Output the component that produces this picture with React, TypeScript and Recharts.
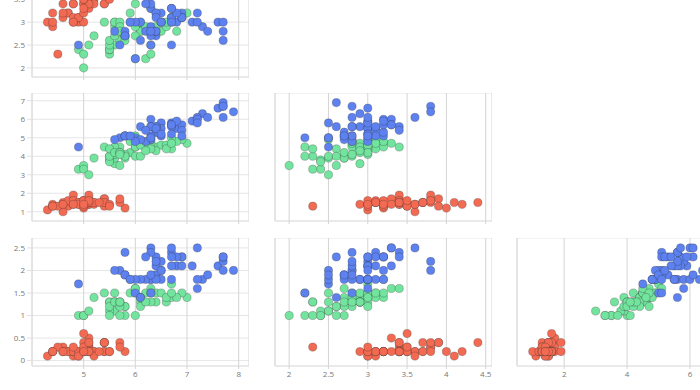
import { ScatterChart, Scatter, XAxis, YAxis, CartesianGrid } from 'recharts'

const setosaSepalLength = [5.1, 4.9, 4.7, 4.6, 5.0, 5.4, 4.6, 5.0, 4.4, 4.9, 5.4, 4.8, 4.8, 4.3, 5.8, 5.7, 5.4, 5.1, 5.7, 5.1, 5.4, 5.1, 4.6, 5.1, 4.8, 5.0, 5.0, 5.2, 5.2, 4.7, 4.8, 5.4, 5.2, 5.5, 4.9, 5.0, 5.5, 4.9, 4.4, 5.1, 5.0, 4.5, 4.4, 5.0, 5.1, 4.8, 5.1, 4.6, 5.3, 5.0]
const setosaSepalWidth = [3.5, 3.0, 3.2, 3.1, 3.6, 3.9, 3.4, 3.4, 2.9, 3.1, 3.7, 3.4, 3.0, 3.0, 4.0, 4.4, 3.9, 3.5, 3.8, 3.8, 3.4, 3.7, 3.6, 3.3, 3.4, 3.0, 3.4, 3.5, 3.4, 3.2, 3.1, 3.4, 4.1, 4.2, 3.1, 3.2, 3.5, 3.6, 3.0, 3.4, 3.5, 2.3, 3.2, 3.5, 3.8, 3.0, 3.8, 3.2, 3.7, 3.3]
const setosaPetalLength = [1.4, 1.4, 1.3, 1.5, 1.4, 1.7, 1.4, 1.5, 1.4, 1.5, 1.5, 1.6, 1.4, 1.1, 1.2, 1.5, 1.3, 1.4, 1.7, 1.5, 1.7, 1.5, 1.0, 1.7, 1.9, 1.6, 1.6, 1.5, 1.4, 1.6, 1.6, 1.5, 1.5, 1.4, 1.5, 1.2, 1.3, 1.4, 1.3, 1.5, 1.3, 1.3, 1.3, 1.6, 1.9, 1.4, 1.6, 1.4, 1.5, 1.4]
const setosaPetalWidth = [0.2, 0.2, 0.2, 0.2, 0.2, 0.4, 0.3, 0.2, 0.2, 0.1, 0.2, 0.2, 0.1, 0.1, 0.2, 0.4, 0.4, 0.3, 0.3, 0.3, 0.2, 0.4, 0.2, 0.5, 0.2, 0.2, 0.4, 0.2, 0.2, 0.2, 0.2, 0.4, 0.1, 0.2, 0.2, 0.2, 0.2, 0.1, 0.2, 0.2, 0.3, 0.3, 0.2, 0.6, 0.4, 0.3, 0.2, 0.2, 0.2, 0.2]

const versicolorSepalLength = [7.0, 6.4, 6.9, 5.5, 6.5, 5.7, 6.3, 4.9, 6.6, 5.2, 5.0, 5.9, 6.0, 6.1, 5.6, 6.7, 5.6, 5.8, 6.2, 5.6, 5.9, 6.1, 6.3, 6.1, 6.4, 6.6, 6.8, 6.7, 6.0, 5.7, 5.5, 5.5, 5.8, 6.0, 5.4, 6.0, 6.7, 6.3, 5.6, 5.5, 5.5, 6.1, 5.8, 5.0, 5.6, 5.7, 5.7, 6.2, 5.1, 5.7]
const versicolorSepalWidth = [3.2, 3.2, 3.1, 2.3, 2.8, 2.8, 3.3, 2.4, 2.9, 2.7, 2.0, 3.0, 2.2, 2.9, 2.9, 3.1, 3.0, 2.7, 2.2, 2.5, 3.2, 2.8, 2.5, 2.8, 2.9, 3.0, 2.8, 3.0, 2.9, 2.6, 2.4, 2.4, 2.7, 2.7, 3.0, 3.4, 3.1, 2.3, 3.0, 2.5, 2.6, 3.0, 2.6, 2.3, 2.7, 3.0, 2.9, 2.9, 2.5, 2.8]
const versicolorPetalLength = [4.7, 4.5, 4.9, 4.0, 4.6, 4.5, 4.7, 3.3, 4.6, 3.9, 3.5, 4.2, 4.0, 4.7, 3.6, 4.4, 4.5, 4.1, 4.5, 3.9, 4.8, 4.0, 4.9, 4.7, 4.3, 4.4, 4.8, 5.0, 4.5, 3.5, 3.8, 3.7, 3.9, 5.1, 4.5, 4.5, 4.7, 4.4, 4.1, 4.0, 4.4, 4.6, 4.0, 3.3, 4.2, 4.2, 4.2, 4.3, 3.0, 4.1]
const versicolorPetalWidth = [1.4, 1.5, 1.5, 1.3, 1.5, 1.3, 1.6, 1.0, 1.3, 1.4, 1.0, 1.5, 1.0, 1.4, 1.3, 1.4, 1.5, 1.0, 1.5, 1.1, 1.8, 1.3, 1.5, 1.2, 1.3, 1.4, 1.4, 1.7, 1.5, 1.0, 1.1, 1.0, 1.2, 1.6, 1.5, 1.6, 1.5, 1.3, 1.3, 1.3, 1.2, 1.4, 1.2, 1.0, 1.3, 1.2, 1.3, 1.3, 1.1, 1.3]

const virginicaSepalLength = [6.3, 5.8, 7.1, 6.3, 6.5, 7.6, 4.9, 7.3, 6.7, 7.2, 6.5, 6.4, 6.8, 5.7, 5.8, 6.4, 6.5, 7.7, 7.7, 6.0, 6.9, 5.6, 7.7, 6.3, 6.7, 7.2, 6.2, 6.1, 6.4, 7.2, 7.4, 7.9, 6.4, 6.3, 6.1, 7.7, 6.3, 6.4, 6.0, 6.9, 6.7, 6.9, 5.8, 6.8, 6.7, 6.7, 6.3, 6.5, 6.2, 5.9]
const virginicaSepalWidth = [3.3, 2.7, 3.0, 2.9, 3.0, 3.0, 2.5, 2.9, 2.5, 3.6, 3.2, 2.7, 3.0, 2.5, 2.8, 3.2, 3.0, 3.8, 2.6, 2.2, 3.2, 2.8, 2.8, 2.7, 3.3, 3.2, 2.8, 3.0, 2.8, 3.0, 2.8, 3.8, 2.8, 2.8, 2.6, 3.0, 3.4, 3.1, 3.0, 3.1, 3.1, 3.1, 2.7, 3.2, 3.3, 3.0, 2.5, 3.0, 3.4, 3.0]
const virginicaPetalLength = [6.0, 5.1, 5.9, 5.6, 5.8, 6.6, 4.5, 6.3, 5.8, 6.1, 5.1, 5.3, 5.5, 5.0, 5.1, 5.3, 5.5, 6.7, 6.9, 5.0, 5.7, 4.9, 6.7, 4.9, 5.7, 6.0, 4.8, 4.9, 5.6, 5.8, 6.1, 6.4, 5.6, 5.1, 5.6, 6.1, 5.6, 5.5, 4.8, 5.4, 5.6, 5.1, 5.1, 5.9, 5.7, 5.2, 5.0, 5.2, 5.4, 5.1]
const virginicaPetalWidth = [2.5, 1.9, 2.1, 1.8, 2.2, 2.1, 1.7, 1.8, 1.8, 2.5, 2.0, 1.9, 2.1, 2.0, 2.4, 2.3, 1.8, 2.2, 2.3, 1.5, 2.3, 2.0, 2.0, 1.8, 2.1, 1.8, 1.8, 1.8, 2.1, 1.6, 1.9, 2.0, 2.2, 1.5, 1.4, 2.3, 2.4, 1.8, 1.8, 2.1, 2.4, 2.3, 1.9, 2.3, 2.5, 2.3, 1.9, 2.0, 2.3, 1.8]

const sepalLengthTicks = [5, 6, 7, 8]
const sepalWidthTicks = [2, 2.5, 3, 3.5, 4, 4.5]
const petalLengthTicks = [1, 2, 3, 4, 5, 6, 7]
const petalLengthXTicks = [2, 4, 6]
const petalWidthTicks = [0, 0.5, 1, 1.5, 2, 2.5]

// ── Helpers ───────────────────────────────────────────────────────────────────

const zip = (sl: number[], sw: number[], pl: number[], pw: number[]) =>
  sl.map((v, i) => ({ sl: v, sw: sw[i], pl: pl[i], pw: pw[i] }))

const species = [
  { name: 'setosa', color: '#f26a52', data: zip(setosaSepalLength, setosaSepalWidth, setosaPetalLength, setosaPetalWidth) },
  { name: 'versicolor', color: '#72e49e', data: zip(versicolorSepalLength, versicolorSepalWidth, versicolorPetalLength, versicolorPetalWidth) },
  { name: 'virginica', color: '#5d81ef', data: zip(virginicaSepalLength, virginicaSepalWidth, virginicaPetalLength, virginicaPetalWidth) },
]

type AxisDef = { key: string; domain: [number, number]; ticks: number[] }

const SL: AxisDef = { key: 'sl', domain: [4.0, 8.2], ticks: sepalLengthTicks }
const SW_X: AxisDef = { key: 'sw', domain: [1.82, 4.58], ticks: sepalWidthTicks }
const SW_Y: AxisDef = { key: 'sw', domain: [1.8, 4.6], ticks: sepalWidthTicks }
const PL_X: AxisDef = { key: 'pl', domain: [0.5, 7.4], ticks: petalLengthXTicks }
const PL_Y: AxisDef = { key: 'pl', domain: [0.5, 7.42], ticks: petalLengthTicks }
const PW_Y: AxisDef = { key: 'pw', domain: [-0.12, 2.72], ticks: petalWidthTicks }

const PLOT_W = 217
const PLOT_H = 128
const Y_AXIS_W = 32
const X_AXIS_H = 20
const colLeft = [32, 275, 517]
const rowTop = [-51, 93, 238]

const tickStyle = { fill: '#777', fontSize: 8, fontFamily: 'Open Sans, sans-serif' }

const Dot = (props: any) => (
  <circle cx={props.cx} cy={props.cy} r={4.1} fill={props.fill} stroke="rgba(40,40,40,0.45)" strokeWidth={0.6} />
)

function Panel({ x, y, row, col }: { x: AxisDef; y: AxisDef; row: number; col: number }) {
  const showY = col === 0
  const showX = row === 2
  return (
    <div style={{ position: 'absolute', left: colLeft[col] - Y_AXIS_W, top: rowTop[row] }}>
      <ScatterChart
        width={Y_AXIS_W + PLOT_W}
        height={PLOT_H + X_AXIS_H}
        margin={{ top: 0, right: 0, bottom: 0, left: 0 }}
      >
        <CartesianGrid vertical={false} stroke="#e6e6e6" />
        <CartesianGrid horizontal={false} stroke="#d4d4d4" />
        <XAxis
          type="number"
          dataKey={x.key}
          domain={x.domain}
          ticks={x.ticks}
          height={X_AXIS_H}
          tick={tickStyle}
          tickSize={3}
          tickLine={{ stroke: '#d4d4d4' }}
          axisLine={{ stroke: '#e0e0e0' }}
          tickFormatter={showX ? undefined : () => ''}
          interval={0}
        />
        <YAxis
          type="number"
          dataKey={y.key}
          domain={y.domain}
          ticks={y.ticks}
          width={Y_AXIS_W}
          tick={showY ? tickStyle : false}
          tickSize={5}
          tickLine={{ stroke: '#e0e0e0' }}
          axisLine={{ stroke: '#e0e0e0' }}
          interval={0}
        />
        {species.map((s) => (
          <Scatter
            key={s.name}
            name={s.name}
            data={s.data}
            fill={s.color}
            shape={Dot}
            isAnimationActive={false}
          />
        ))}
      </ScatterChart>
    </div>
  )
}

export default function App() {
  return (
    <div style={{ position: 'relative', width: 700, height: 390, overflow: 'hidden', background: '#fff' }}>
      <style>{'body{margin:0}'}</style>
      <Panel x={SL} y={SW_Y} row={0} col={0} />
      <Panel x={SL} y={PL_Y} row={1} col={0} />
      <Panel x={SW_X} y={PL_Y} row={1} col={1} />
      <Panel x={SL} y={PW_Y} row={2} col={0} />
      <Panel x={SW_X} y={PW_Y} row={2} col={1} />
      <Panel x={PL_X} y={PW_Y} row={2} col={2} />
    </div>
  )
}
